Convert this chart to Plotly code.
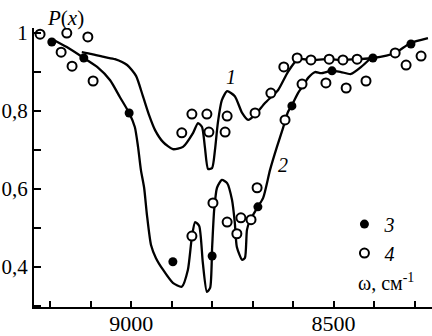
import plotly.graph_objects as go

# Curve 1
w1 = [9122, 9097, 9065, 9040, 9010, 8988, 8971, 8956, 8941, 8921, 8897, 8872,
      8847, 8835, 8825, 8818, 8810, 8800, 8793, 8786, 8776, 8763, 8744, 8726,
      8711, 8694, 8669, 8637, 8613, 8588, 8556, 8514, 8477, 8440, 8403, 8348,
      8311, 8267]
p1 = [0.951, 0.946, 0.938, 0.933, 0.918, 0.890, 0.838, 0.790, 0.751, 0.720,
      0.702, 0.708, 0.744, 0.769, 0.759, 0.708, 0.651, 0.654, 0.700, 0.769,
      0.828, 0.851, 0.838, 0.795, 0.777, 0.790, 0.821, 0.854, 0.900, 0.933,
      0.931, 0.933, 0.931, 0.933, 0.936, 0.949, 0.974, 0.987]

# Curve 2
w2 = [9196, 9159, 9117, 9084, 9052, 9028, 9005, 8991, 8983, 8976, 8968, 8961,
      8951, 8939, 8921, 8897, 8875, 8860, 8850, 8842, 8832, 8823, 8813, 8805,
      8800, 8795, 8788, 8776, 8763, 8751, 8744, 8739, 8726, 8719, 8714, 8707,
      8689, 8674, 8657, 8640, 8625, 8613, 8603, 8588, 8576, 8563, 8546, 8531,
      8506, 8482, 8457, 8432, 8408]
p2 = [0.985, 0.964, 0.936, 0.913, 0.879, 0.836, 0.795, 0.759, 0.708, 0.649,
      0.603, 0.533, 0.456, 0.423, 0.392, 0.359, 0.349, 0.392, 0.477, 0.515,
      0.505, 0.410, 0.336, 0.346, 0.451, 0.546, 0.603, 0.623, 0.615, 0.572,
      0.513, 0.451, 0.418, 0.423, 0.495, 0.518, 0.551, 0.577, 0.649, 0.708,
      0.756, 0.797, 0.815, 0.846, 0.864, 0.885, 0.900, 0.897, 0.903, 0.900,
      0.895, 0.913, 0.936]

# Series 3 (filled dots)
w3 = [9196, 9117, 9005, 8897, 8800, 8687, 8603, 8504, 8403, 8309]
p3 = [0.977, 0.936, 0.795, 0.413, 0.428, 0.554, 0.813, 0.903, 0.936, 0.972]

# Series 4 (open circles)
w4 = [9225, 9159, 9107, 9173, 9146, 9094, 8875, 8850, 8813, 8808, 8768, 8763,
      8694, 8655, 8623, 8590, 8556, 8511, 8477, 8442, 8348, 8850, 8798, 8763,
      8729, 8739, 8704, 8689, 8620, 8578, 8519, 8469, 8420, 8321, 8284]
p4 = [0.997, 1.000, 0.990, 0.951, 0.915, 0.877, 0.744, 0.792, 0.792, 0.746,
      0.746, 0.787, 0.795, 0.846, 0.913, 0.936, 0.931, 0.933, 0.931, 0.933,
      0.949, 0.479, 0.564, 0.515, 0.526, 0.485, 0.521, 0.603, 0.777, 0.869,
      0.872, 0.859, 0.877, 0.918, 0.941]

x_ticks = [9000, 8500]
x_ticklabels = ["9000", "8500"]
y_ticks = [0.4, 0.6, 0.8, 1.0]
y_ticklabels = ["0,4", "0,6", "0,8", "1"]

SERIF = "Liberation Serif"

fig = go.Figure()
fig.add_trace(go.Scatter(x=w1, y=p1, mode="lines", showlegend=False,
                         line=dict(color="black", width=2.3, shape="spline", smoothing=0.6)))
fig.add_trace(go.Scatter(x=w2, y=p2, mode="lines", showlegend=False,
                         line=dict(color="black", width=2.3, shape="spline", smoothing=0.6)))
fig.add_trace(go.Scatter(x=w3, y=p3, mode="markers", name="3",
                         marker=dict(symbol="circle", size=9, color="black")))
fig.add_trace(go.Scatter(x=w4, y=p4, mode="markers", name="4",
                         marker=dict(symbol="circle", size=9, color="white",
                                     line=dict(color="black", width=2))))

fig.update_layout(
    width=432, height=336, autosize=False,
    margin=dict(l=34, r=0, t=28, b=29),
    paper_bgcolor="white", plot_bgcolor="white",
    font=dict(family=SERIF, size=22, color="black"),
    legend=dict(x=0.78, y=0.367, xanchor="left", yanchor="top",
                bgcolor="rgba(0,0,0,0)", itemwidth=30,
                font=dict(family=SERIF, size=20, style="italic")),
    xaxis=dict(range=[9240, 8257], showline=True, linecolor="black", linewidth=2,
               showgrid=False, zeroline=False, ticks="inside", ticklen=6, tickwidth=2,
               tickcolor="black", tickvals=x_ticks, ticktext=x_ticklabels,
               automargin=False, ticklabelstandoff=-4,
               minor=dict(ticks="inside", dtick=100, tick0=9000, ticklen=6,
                          tickwidth=2, tickcolor="black", showgrid=False),
               tickfont=dict(family=SERIF, size=22)),
    yaxis=dict(range=[0.297, 1.013], showline=True, linecolor="black", linewidth=2,
               showgrid=False, zeroline=False, ticks="inside", ticklen=7, tickwidth=2,
               tickcolor="black", tickvals=y_ticks, ticktext=y_ticklabels,
               automargin=False,
               minor=dict(ticks="inside", dtick=0.1, tick0=0.4, ticklen=7,
                          tickwidth=2, tickcolor="black", showgrid=False),
               tickfont=dict(family=SERIF, size=21)),
    annotations=[
        dict(text="<i>P</i>(<i>x</i>)", xref="paper", yref="paper", x=0.08, y=1.036,
             xanchor="center", yanchor="middle",
             showarrow=False, font=dict(family=SERIF, size=21)),
        dict(text="ω, см<sup>-1</sup>", xref="paper", yref="paper", x=0.81, y=0.09,
             xanchor="left", yanchor="middle", showarrow=False,
             font=dict(family=SERIF, size=20)),
        dict(text="<i>1</i>", x=8753, y=0.887, showarrow=False,
             font=dict(family=SERIF, size=20)),
        dict(text="<i>2</i>", x=8625, y=0.662, showarrow=False,
             font=dict(family=SERIF, size=20)),
    ],
)

# Remove the default 8px body margin so the 432x336 figure fills the window.
fig.write_html("out.html", config={"displayModeBar": False},
               post_script="document.body.style.margin='0';")
